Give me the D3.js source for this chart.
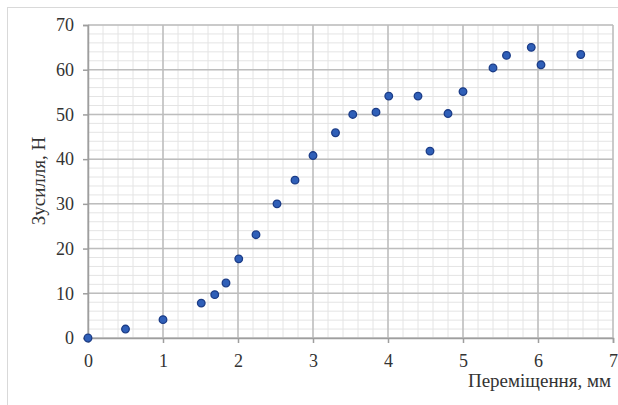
<!DOCTYPE html>
<html>
<head>
  <meta charset="UTF-8">
  <title>Зусилля - переміщення</title>
  <style>
    body { margin: 0; background: #fff; }
    svg { display: block; font-family: "Liberation Serif", "Times New Roman", serif; }
  </style>
</head>
<body>
<svg></svg>
<script src="https://d3js.org/d3.v7.min.js"></script>
<script>

// data
let displacement = [0, 0.5, 1.0, 1.51, 1.69, 1.84, 2.01, 2.24, 2.52, 2.76, 3.0, 3.3, 3.53, 3.84, 4.01, 4.4, 4.56, 4.8, 5.0, 5.4, 5.58, 5.91, 6.04, 6.57];
let force = [0, 2.0, 4.1, 7.8, 9.7, 12.3, 17.7, 23.1, 30.0, 35.3, 40.8, 45.9, 50.0, 50.5, 54.1, 54.1, 41.8, 50.2, 55.1, 60.4, 63.2, 65.0, 61.1, 63.4];
let xTicks = [0, 1, 2, 3, 4, 5, 6, 7];
let yTicks = [0, 10, 20, 30, 40, 50, 60, 70];

let width = 618, height = 405;
let svg = d3.select("svg").attr("width", width).attr("height", height);

// outer chart frame
svg.append("rect")
  .attr("x", 7.5).attr("y", 7.5)
  .attr("width", 640).attr("height", 420)
  .attr("fill", "none").attr("stroke", "#d9d9d9");

let x = d3.scaleLinear().domain([0, 7]).range([88, 613]);
let y = d3.scaleLinear().domain([0, 70]).range([338, 25]);

// minor grid
let g = svg.append("g");
g.selectAll(".mx").data(d3.range(0, 7.01, 0.2)).enter().append("line")
  .attr("x1", d => x(d)).attr("x2", d => x(d))
  .attr("y1", y(0)).attr("y2", y(70))
  .attr("stroke", "#e4e4e4").attr("stroke-width", 1);
g.selectAll(".my").data(d3.range(0, 70.01, 2)).enter().append("line")
  .attr("y1", d => y(d)).attr("y2", d => y(d))
  .attr("x1", x(0)).attr("x2", x(7))
  .attr("stroke", "#e4e4e4").attr("stroke-width", 1);

// major grid
g.selectAll(".gx").data(xTicks).enter().append("line")
  .attr("x1", d => x(d)).attr("x2", d => x(d))
  .attr("y1", y(0)).attr("y2", y(70))
  .attr("stroke", "#bdbdbd").attr("stroke-width", 1.5);
g.selectAll(".gy").data(yTicks).enter().append("line")
  .attr("y1", d => y(d)).attr("y2", d => y(d))
  .attr("x1", x(0)).attr("x2", x(7))
  .attr("stroke", "#bdbdbd").attr("stroke-width", 1.5);

// axes
let xAxis = svg.append("g")
  .attr("transform", `translate(0,${y(0)})`)
  .call(d3.axisBottom(x).tickValues(xTicks).tickFormat(d3.format("d")).tickSize(5).tickPadding(11));
let yAxis = svg.append("g")
  .attr("transform", `translate(${x(0)},0)`)
  .call(d3.axisLeft(y).tickValues(yTicks).tickFormat(d3.format("d")).tickSize(5).tickPadding(9));

[xAxis, yAxis].forEach(a => {
  a.attr("font-family", "'Liberation Serif', serif").attr("font-size", 18);
  a.select(".domain").attr("stroke", "#9e9e9e").attr("stroke-width", 1.5);
  a.selectAll(".tick line").attr("stroke", "#9e9e9e").attr("stroke-width", 1.5);
  a.selectAll(".tick text").attr("fill", "#333");
});

// axis titles
svg.append("text")
  .attr("x", 611).attr("y", 387)
  .attr("text-anchor", "end")
  .attr("font-size", 19).attr("fill", "#333")
  .text("Переміщення, мм");

svg.append("text")
  .attr("transform", "translate(45,181) rotate(-90)")
  .attr("text-anchor", "middle")
  .attr("font-size", 19).attr("fill", "#333")
  .text("Зусилля, Н");

// points
svg.append("g").selectAll("circle")
  .data(displacement.map((d, i) => [d, force[i]]))
  .enter().append("circle")
  .attr("cx", d => x(d[0]))
  .attr("cy", d => y(d[1]))
  .attr("r", 3.8)
  .attr("fill", "#2f5fb8")
  .attr("stroke", "#1b3c87")
  .attr("stroke-width", 1.3);

</script>
</body>
</html>
